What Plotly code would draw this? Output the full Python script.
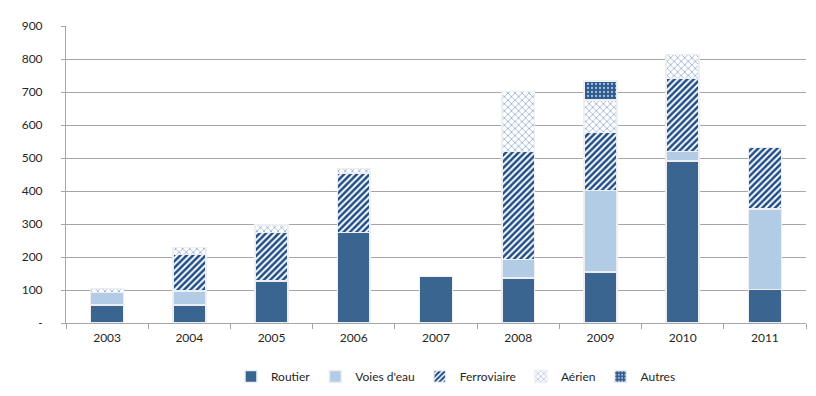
import plotly.graph_objects as go

years = ["2003", "2004", "2005", "2006", "2007", "2008", "2009", "2010", "2011"]
routier = [55, 55, 127, 275, 141, 137, 154, 491, 102]
voies = [38, 42, 0, 0, 0, 56, 247, 28, 243]
ferro = [0, 111, 148, 180, 0, 326, 176, 222, 187]
aerien = [11, 21, 22, 13, 0, 182, 99, 73, 0]
autres = [0, 0, 0, 0, 0, 0, 57, 0, 0]

ytick_vals = [0, 100, 200, 300, 400, 500, 600, 700, 800, 900]
ytick_text = ["-", "100", "200", "300", "400", "500", "600", "700", "800", "900"]

dark = "#3A6591"
light = "#B3CCE5"
line = dict(color="#ECEEF2", width=1.5)

fig = go.Figure()
fig.add_bar(name="Routier", x=years, y=routier, marker=dict(color=dark, line=line))
fig.add_bar(name="Voies d'eau", x=years, y=voies, marker=dict(color=light, line=line))
fig.add_bar(name="Ferroviaire", x=years, y=ferro,
            marker=dict(color="white", line=line,
                        pattern=dict(shape="/", fgcolor="#1E4C86", bgcolor="white",
                                     size=4.5, solidity=0.55, fgopacity=1)))
fig.add_bar(name="Aérien", x=years, y=aerien,
            marker=dict(color="white", line=line,
                        pattern=dict(shape="x", fgcolor="#6A8FC0", bgcolor="white",
                                     size=5, solidity=0.22, fgopacity=1)))
fig.add_bar(name="Autres", x=years, y=autres,
            marker=dict(color=dark, line=line,
                        pattern=dict(shape=".", fgcolor="#A8BFDD", bgcolor="#2D5A8E",
                                     size=4, solidity=0.25, fgopacity=1)))

fig.update_layout(
    barmode="stack",
    bargap=0.6,
    width=816, height=396,
    margin=dict(l=58, r=18, t=18, b=81, autoexpand=False),
    plot_bgcolor="white", paper_bgcolor="white",
    font=dict(family="Lato, Open Sans, sans-serif", size=12, color="#262626"),
    legend=dict(orientation="h", x=0.527, xanchor="center", y=-0.131, yanchor="top",
                font=dict(size=12), traceorder="normal", itemwidth=30,
                tracegroupgap=0),
    showlegend=True,
)
fig.update_yaxes(range=[0, 900], tickvals=ytick_vals, ticktext=ytick_text,
                 showgrid=True, gridcolor="#A6A6A6", gridwidth=1, automargin=False,
                 showline=True, linecolor="#A6A6A6", ticks="outside", ticklen=4,
                 tickcolor="#A6A6A6", zeroline=False, ticklabelstandoff=16)
fig.update_xaxes(showline=True, linecolor="#A6A6A6", ticks="outside", ticklen=5,
                 automargin=False, ticklabelstandoff=4,
                 tickcolor="#A6A6A6", tickson="boundaries", showgrid=False)

fig.write_html("out.html")
